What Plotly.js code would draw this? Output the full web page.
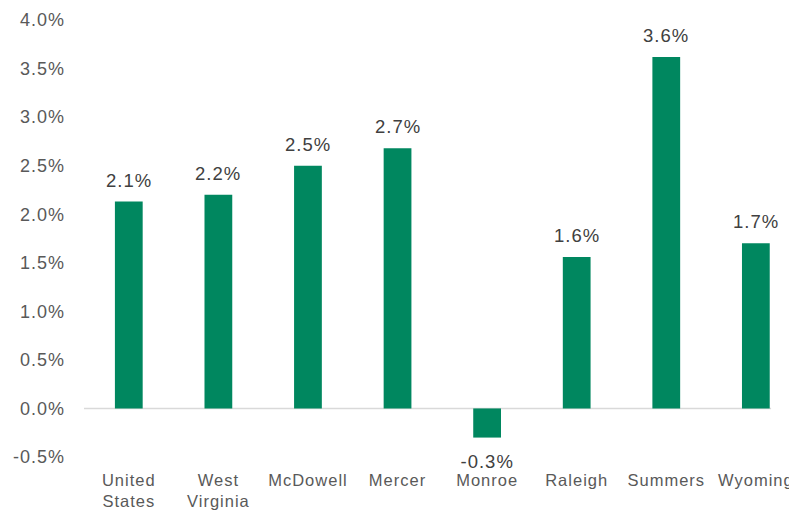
<!DOCTYPE html>
<html><head><meta charset="utf-8">
<script src="https://cdn.plot.ly/plotly-3.0.1.min.js"></script>
<style>body{margin:0;padding:0;background:#fff}#chart{width:789px;height:510px}#chart text{letter-spacing:1px}</style>
</head><body><div id="chart"></div>
<script>
const categories = ["United<br>States", "West<br>Virginia", "McDowell", "Mercer", "Monroe", "Raleigh", "Summers", "Wyoming"];
const values = [2.13, 2.20, 2.50, 2.68, -0.30, 1.56, 3.62, 1.70];
const labels = ["2.1%", "2.2%", "2.5%", "2.7%", "-0.3%", "1.6%", "3.6%", "1.7%"];
const yTicks = [-0.5, 0, 0.5, 1, 1.5, 2, 2.5, 3, 3.5, 4];
const yTickText = ["-0.5%", "0.0%", "0.5%", "1.0%", "1.5%", "2.0%", "2.5%", "3.0%", "3.5%", "4.0%"];

const FONT = "Liberation Sans, Arial, sans-serif";
const xs = categories.map((c, i) => i);

const trace = {
  type: "bar",
  x: xs,
  y: values,
  marker: {color: "#00875F"},
  width: 0.31,
  hoverinfo: "none"
};

const annotations = values.map((v, i) => ({
  x: xs[i], y: v, xref: "x", yref: "y",
  text: labels[i], showarrow: false,
  yanchor: v >= 0 ? "bottom" : "top",
  yshift: v >= 0 ? 9 : -11,
  font: {family: FONT, size: 18.5, color: "#404040"}
}));

const layout = {
  width: 789, height: 510,
  margin: {l: 84, r: 0, t: 20, b: 53},
  paper_bgcolor: "#ffffff", plot_bgcolor: "#ffffff",
  showlegend: false,
  xaxis: {
    range: [-0.5, 7.37],
    tickvals: xs,
    ticktext: categories,
    showgrid: false, zeroline: false, showline: false,
    ticks: "",
    tickfont: {family: FONT, size: 16.5, color: "#595959"},
    ticklabelstandoff: 11,
    ticklabeloverflow: "allow"
  },
  yaxis: {
    range: [-0.5, 4.0],
    tickvals: yTicks,
    ticktext: yTickText,
    showgrid: false, zeroline: false, showline: false,
    ticks: "",
    tickfont: {family: FONT, size: 18, color: "#595959"},
    ticklabelstandoff: 18
  },
  annotations: annotations,
  shapes: [{
    type: "line", xref: "x", yref: "y",
    x0: -0.5, x1: 7.17, y0: 0, y1: 0,
    line: {color: "#D9D9D9", width: 1.5},
    layer: "below"
  }]
};

Plotly.newPlot("chart", [trace], layout, {staticPlot: true, displayModeBar: false});
</script></body></html>
